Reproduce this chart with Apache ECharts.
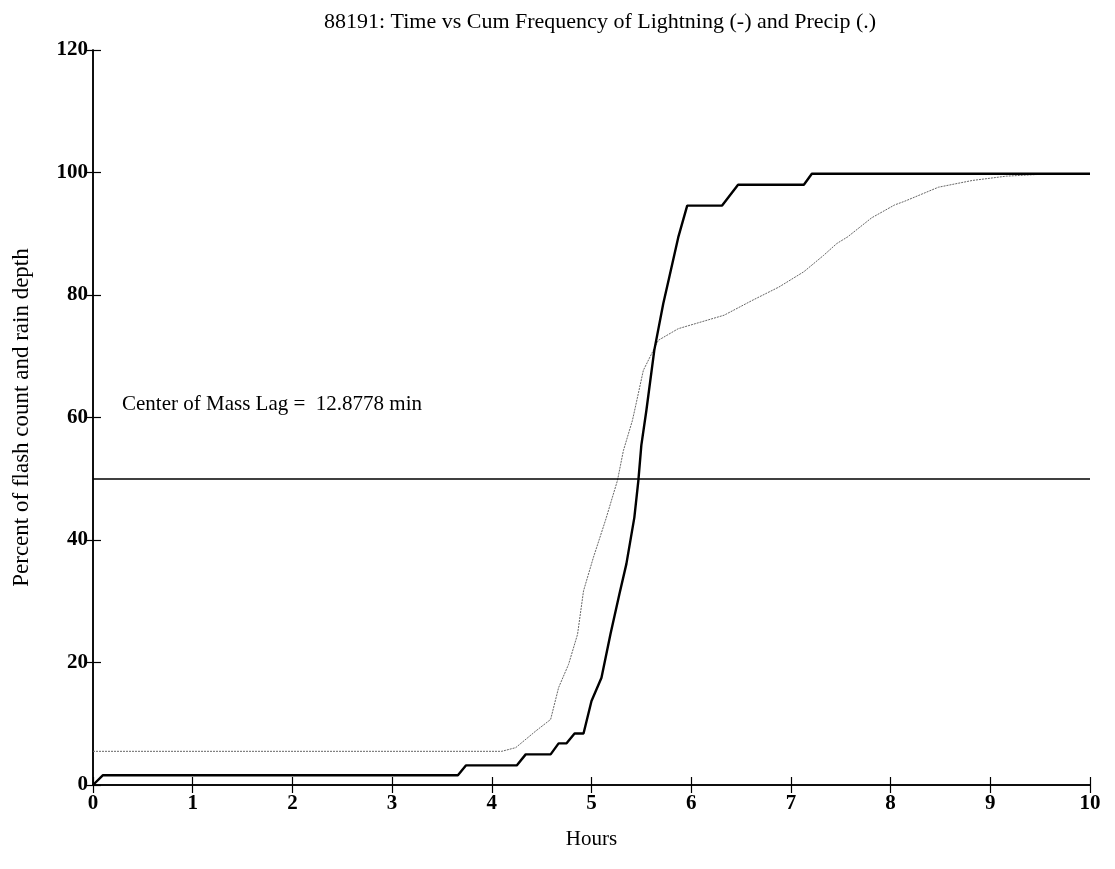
<!DOCTYPE html>
<html>
<head>
<meta charset="utf-8">
<script src="https://cdn.jsdelivr.net/npm/echarts@6/dist/echarts.min.js"></script>
<style>
html,body{margin:0;padding:0;background:#fff;}
#chart{width:1115px;height:869px;}
</style>
</head>
<body>
<div id="chart"></div>
<script>
// Data
const titleText = '88191: Time vs Cum Frequency of Lightning (-) and Precip (.)';
const xAxisName = 'Hours';
const yAxisName = 'Percent of flash count and rain depth';
const annotationText = 'Center of Mass Lag =  12.8778 min';
const referenceLevel = 50;

// Lightning cumulative frequency (solid): [hours, percent]
const lightningHours = [0, 0.1, 3.66, 3.74, 4.25, 4.34, 4.59, 4.67, 4.75, 4.83, 4.92, 5.0, 5.1, 5.19, 5.28, 5.35, 5.43, 5.47, 5.5, 5.55, 5.63, 5.72, 5.78, 5.87, 5.96, 6.31, 6.47, 7.13, 7.21, 10];
const lightningPct   = [0, 1.6, 1.6, 3.2, 3.2, 5.0, 5.0, 6.8, 6.8, 8.4, 8.4, 13.7, 17.5, 24.6, 31.2, 36.1, 43.7, 49.7, 55.5, 61.1, 71.0, 78.6, 82.9, 89.4, 94.6, 94.6, 98.0, 98.0, 99.8, 99.8];

// Precipitation cumulative depth (dotted): [hours, percent]
const precipHours = [0, 4.1, 4.24, 4.44, 4.59, 4.67, 4.77, 4.86, 4.92, 5.02, 5.14, 5.26, 5.32, 5.41, 5.44, 5.52, 5.67, 5.87, 6.1, 6.33, 6.61, 6.88, 7.13, 7.33, 7.46, 7.57, 7.81, 8.04, 8.14, 8.48, 8.82, 9.16, 9.5, 10];
const precipPct   = [5.5, 5.5, 6.1, 8.8, 10.7, 15.9, 19.7, 24.6, 31.7, 37.2, 43.2, 49.7, 54.6, 59.5, 61.7, 67.7, 72.6, 74.5, 75.6, 76.7, 79.1, 81.3, 83.8, 86.5, 88.4, 89.5, 92.6, 94.7, 95.3, 97.6, 98.7, 99.4, 99.7, 99.8];

const xTicks = {min: 0, max: 10, interval: 1};
const yTicks = {min: 0, max: 120, interval: 20};

const lightningData = lightningHours.map((h, i) => [h, lightningPct[i]]);
const precipData = precipHours.map((h, i) => [h, precipPct[i]]);

const serif = '"Liberation Serif", "DejaVu Serif", serif';
const chart = echarts.init(document.getElementById('chart'), null, {renderer: 'canvas'});

const boxAxisCommon = {
  axisLine: {show: true, lineStyle: {color: '#000', width: 1.5}},
  axisTick: {show: true, inside: true, length: 8, lineStyle: {color: '#000', width: 1.2}},
  splitLine: {show: false}
};

chart.setOption({
  backgroundColor: '#fff',
  animation: false,
  title: {
    text: titleText,
    left: 595, top: 6, textAlign: 'center',
    textStyle: {fontFamily: serif, fontSize: 22, fontWeight: 'normal', color: '#000'}
  },
  grid: {left: 93, right: 25, top: 50, bottom: 84, containLabel: false},
  xAxis: [
    Object.assign({
      type: 'value', position: 'bottom', min: xTicks.min, max: xTicks.max, interval: xTicks.interval,
      name: xAxisName, nameLocation: 'middle', nameGap: 44,
      nameTextStyle: {fontFamily: serif, fontSize: 21, color: '#000'},
      axisLabel: {fontFamily: serif, fontSize: 21, fontWeight: 'bold', color: '#000', margin: 8}
    }, boxAxisCommon),
    Object.assign({
      type: 'value', position: 'top', min: xTicks.min, max: xTicks.max, interval: xTicks.interval,
      axisLabel: {show: false}
    }, boxAxisCommon)
  ],
  yAxis: [
    Object.assign({
      type: 'value', position: 'left', min: yTicks.min, max: yTicks.max, interval: yTicks.interval,
      name: yAxisName, nameLocation: 'middle', nameGap: 60,
      nameTextStyle: {fontFamily: serif, fontSize: 23, color: '#000'},
      axisLabel: {fontFamily: serif, fontSize: 21, fontWeight: 'bold', color: '#000', margin: 5}
    }, boxAxisCommon),
    Object.assign({
      type: 'value', position: 'right', min: yTicks.min, max: yTicks.max, interval: yTicks.interval,
      axisLabel: {show: false}
    }, boxAxisCommon)
  ],
  series: [
    {
      name: 'Precip', type: 'line', data: precipData, showSymbol: false, symbol: 'none',
      xAxisIndex: 0, yAxisIndex: 0,
      lineStyle: {color: '#666', width: 1, type: [2, 1]},
      z: 2
    },
    {
      name: 'Lightning', type: 'line', data: lightningData, showSymbol: false, symbol: 'none',
      xAxisIndex: 0, yAxisIndex: 0,
      lineStyle: {color: '#000', width: 2.4},
      markLine: {
        silent: true, symbol: ['none', 'none'], label: {show: false},
        lineStyle: {color: '#000', width: 1.6, type: 'solid'},
        data: [{yAxis: referenceLevel}]
      },
      z: 3
    }
  ],
  graphic: [
    {
      type: 'text', left: 122, top: 394,
      style: {text: annotationText, fontFamily: serif, fontSize: 21, fill: '#000'}
    }
  ]
});
</script>
</body>
</html>
